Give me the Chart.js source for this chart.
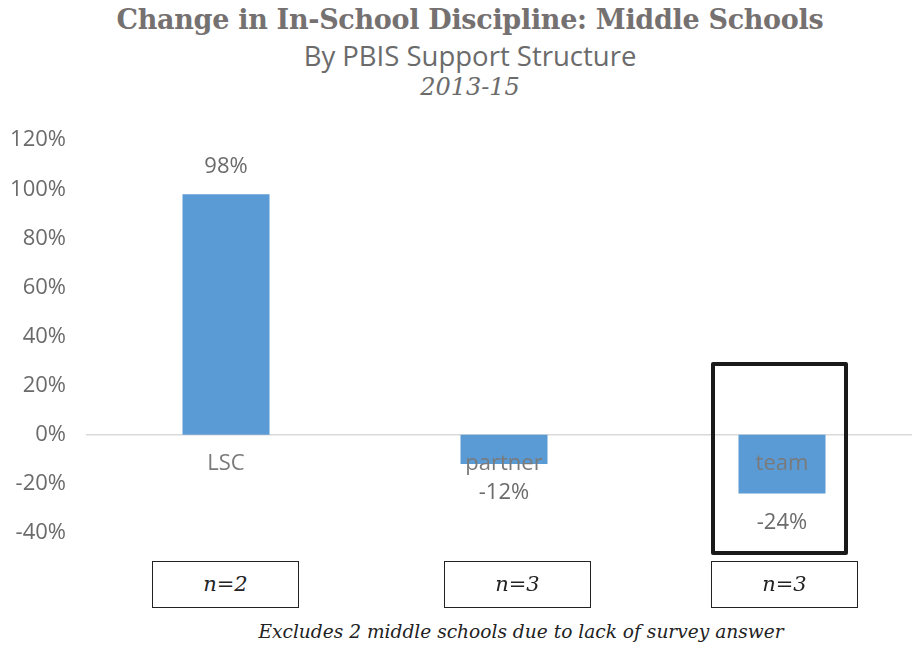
<!DOCTYPE html>
<html lang="en">
<head>
    <meta charset="UTF-8">
    <title>Change in In-School Discipline: Middle Schools</title>
    <script src="https://cdn.jsdelivr.net/npm/chart.js"></script>
    <style>
        body { margin: 0; width: 912px; height: 646px; overflow: hidden; background: #fff; position: relative; }
        .t { position: absolute; left: 0; width: 940px; text-align: center; color: #767171; white-space: nowrap; }
        .title { top: 4px; font: bold 27px "DejaVu Serif", serif; letter-spacing: -0.3px; }
        .sub { top: 37px; font: 27.5px "Open Sans", sans-serif; color: #6b6b6b; }
        .year { top: 73px; font: italic 24px "DejaVu Serif", serif; color: #6b6b6b; }
        .chart-box { position: absolute; left: 0; top: 106px; width: 921px; height: 461px; }
        .nbox { position: absolute; top: 561px; height: 45px; border: 1.5px solid #222; background: #fff; font: italic 21px "DejaVu Serif", serif; color: #222; text-align: center; line-height: 45px; }
        .hilite { position: absolute; left: 711px; top: 362px; width: 129px; height: 185px; border: 4px solid #1a1a1a; border-radius: 2px; }
        .note { position: absolute; left: 100px; width: 842px; top: 621px; text-align: center; font: italic 18.6px "DejaVu Serif", serif; color: #222; white-space: nowrap; }
    </style>
</head>
<body>
    <div class="t title">Change in In-School Discipline: Middle Schools</div>
    <div class="t sub">By PBIS Support Structure</div>
    <div class="t year">2013-15</div>

    <div class="chart-box"><canvas id="disciplineChart" width="921" height="461"></canvas></div>

    <div class="hilite"></div>
    <div class="nbox" style="left:152px; width:145px;">n=2</div>
    <div class="nbox" style="left:444px; width:145px;">n=3</div>
    <div class="nbox" style="left:711px; width:145px;">n=3</div>

    <div class="note">Excludes 2 middle schools due to lack of survey answer</div>

    <script>
        // 지원 구조별 변화율 (%)
        const categories = ['LSC', 'partner', 'team'];
        const changeValues = [98, -12, -24];
        const yTicks = [-40, -20, 0, 20, 40, 60, 80, 100, 120];

        const fontFamily = '"Open Sans", sans-serif';
        const gray = '#6b6b6b';

        // 막대 끝에 값 라벨 표시
        const valueLabels = {
            id: 'valueLabels',
            afterDatasetsDraw(chart) {
                const ctx = chart.ctx;
                const meta = chart.getDatasetMeta(0);
                ctx.save();
                ctx.font = '22px ' + fontFamily;
                ctx.fillStyle = gray;
                ctx.textAlign = 'center';
                ctx.textBaseline = 'middle';
                meta.data.forEach((bar, i) => {
                    const v = changeValues[i];
                    const y = v >= 0 ? bar.y - 27 : bar.y + 29;
                    ctx.fillText(v + '%', bar.x, y);
                });
                ctx.restore();
            }
        };

        new Chart(document.getElementById('disciplineChart'), {
            type: 'bar',
            data: {
                labels: categories,
                datasets: [{
                    data: changeValues,
                    backgroundColor: '#5b9bd5',
                    borderWidth: 0,
                    barPercentage: 0.313,
                    categoryPercentage: 1
                }]
            },
            options: {
                responsive: false,
                animation: false,
                layout: { padding: { top: 19, bottom: 8, left: 0, right: 0 } },
                plugins: { legend: { display: false }, tooltip: { enabled: false } },
                scales: {
                    x: {
                        position: { y: 0 },
                        grid: { display: false },
                        border: { display: true, color: '#d9d9d9', width: 1.5 },
                        // 카테고리 라벨은 막대 위에 그림
                        ticks: { z: 1, color: '#7a7a7a', font: { family: fontFamily, size: 22 }, padding: 8 }
                    },
                    y: {
                        min: -40,
                        max: 120,
                        afterBuildTicks(scale) { scale.ticks = yTicks.map(v => ({ value: v })); },
                        afterFit(scale) { scale.width = 87; },
                        grid: { display: false, drawTicks: false },
                        border: { display: false },
                        ticks: {
                            color: gray,
                            padding: 21,
                            font: { family: fontFamily, size: 22 },
                            callback: v => v + '%'
                        }
                    }
                }
            },
            plugins: [valueLabels]
        });
    </script>
</body>
</html>
